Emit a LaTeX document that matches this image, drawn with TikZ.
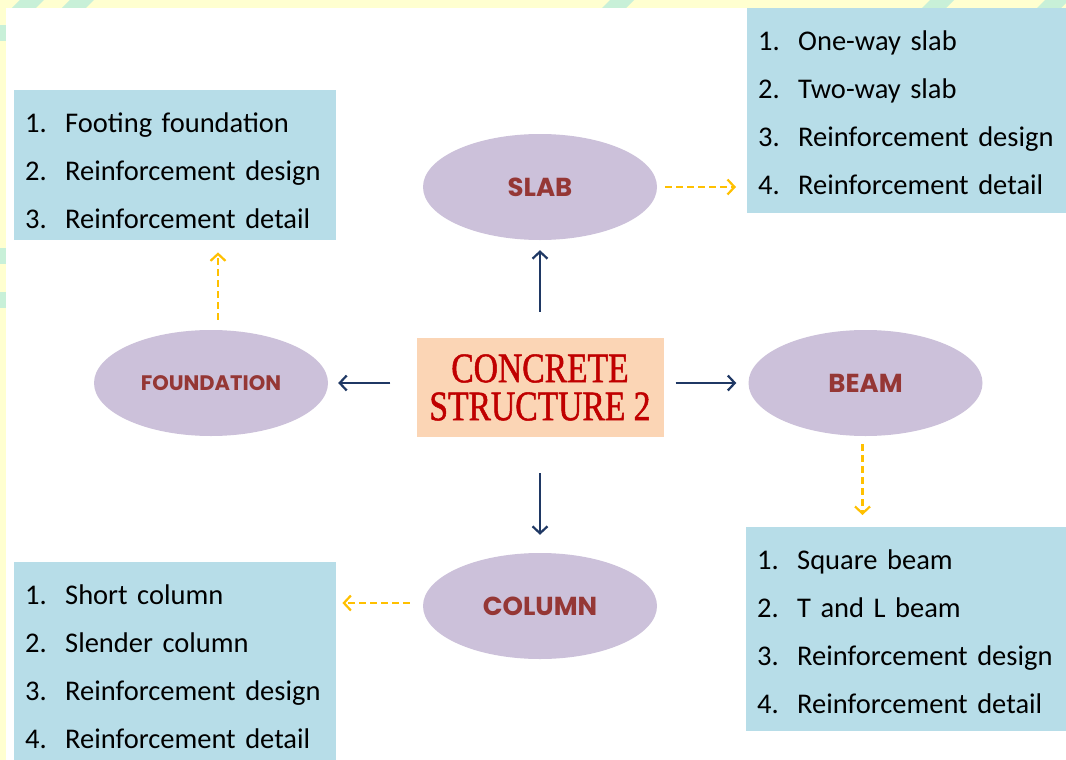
\documentclass[tikz,border=0pt]{standalone}
\usepackage{fontspec}
\setmainfont{Carlito}
\newfontfamily\titlefont[FakeStretch=0.8, FakeBold=1.2]{Liberation Serif}
\newfontfamily\partfont{Poppins}
\usetikzlibrary{arrows.meta, shapes.geometric}

\definecolor{listblue}{HTML}{B7DDE8}
\definecolor{partlilac}{HTML}{CCC1DA}
\definecolor{partred}{HTML}{953735}
\definecolor{corepeach}{HTML}{FBD5B5}
\definecolor{corered}{HTML}{C00000}
\definecolor{navy}{HTML}{1F3864}
\definecolor{gold}{HTML}{FFC000}
\definecolor{bandyellow}{HTML}{FFFFD0}
\definecolor{bandmint}{HTML}{C8F0D8}

% one numbered line of a list box
\newcommand{\itm}[2]{\makebox[40pt][l]{#1.}#2}

\begin{document}
\begin{tikzpicture}[x=1pt, y=-1pt,
listbox/.style = {% blue list box
rectangle, fill=listblue, anchor=north west, inner xsep=11pt, inner ysep=0pt,
text width=300pt, align=left, text height=42pt,
font=\fontsize{28.5}{48}\selectfont},
part/.style = {% lilac ellipse
ellipse, fill=partlilac, minimum width=234pt, minimum height=106pt, inner sep=0pt,
text=partred, font=\partfont\bfseries\fontsize{26}{30}\selectfont},
core/.style = {rectangle, fill=corepeach, minimum width=247pt, minimum height=99pt,
align=center, text=corered, font=\titlefont\fontsize{42}{38}\selectfont},
main/.style = {-{Straight Barb[length=7pt,width=15pt]}, draw=navy, line width=2.2pt},
sub/.style = {-{Straight Barb[length=7pt,width=15pt]}, draw=gold, line width=2.2pt,
dash pattern=on 7pt off 4pt}]
\useasboundingbox (0,0) rectangle (1066,760);
% slide frame
\fill[bandyellow] (0,0) rectangle (1066,760);
\begin{scope}
\clip (0,0) rectangle (1066,8) (0,0) rectangle (6,760);
\foreach \x in {20, 70, 610, 930, 1045}
  \fill[bandmint] (\x,0) -- (\x+24,0) -- (\x+16,8) -- (\x-8,8) -- cycle;
\foreach \y in {25, 248, 292}
  \fill[bandmint] (0,\y) rectangle (6,\y+16);
\end{scope}
\fill[white] (6,8) rectangle (1066,760);

% center and the four parts
\node[core] (core) at (540,387.5) {CONCRETE\\STRUCTURE 2};
\node[part] (slab) at (540,187) {SLAB};
\node[part, font=\partfont\bfseries\fontsize{21}{25}\selectfont] (found) at (211,383) {FOUNDATION};
\node[part] (beam) at (865.5,383) {BEAM};
\node[part] (column) at (540,606) {COLUMN};

% list boxes
\node[listbox, text depth=108pt] (foundList) at (14,90)
  {\itm{1}{Footing foundation}\\ \itm{2}{Reinforcement design}\\ \itm{3}{Reinforcement detail}};
\node[listbox, text depth=163pt] (slabList) at (747,8)
  {\itm{1}{One-way slab}\\ \itm{2}{Two-way slab}\\ \itm{3}{Reinforcement design}\\ \itm{4}{Reinforcement detail}};
\node[listbox, text depth=162pt] (beamList) at (746,527)
  {\itm{1}{Square beam}\\ \itm{2}{T and L beam}\\ \itm{3}{Reinforcement design}\\ \itm{4}{Reinforcement detail}};
\node[listbox, text depth=156pt] (colList) at (14,562)
  {\itm{1}{Short column}\\ \itm{2}{Slender column}\\ \itm{3}{Reinforcement design}\\ \itm{4}{Reinforcement detail}};

% arrows from the center
\draw[main, shorten <=26pt, shorten >=10pt] (core.north) -- (slab.south);
\draw[main, shorten <=12pt, shorten >=12pt] (core.east |- beam.west) -- (beam.west);
\draw[main, shorten <=36pt, shorten >=18pt] (core.south) -- (column.north);
\draw[main, shorten <=26pt, shorten >=10pt] (core.west |- found.east) -- (found.east);
% dashed arrows to the lists
\draw[sub, shorten <=8pt, shorten >=11pt] (slab.east) -- (slab.east -| slabList.west);
\draw[sub, shorten <=10pt, shorten >=12pt] ([xshift=7pt]found.north) -- ([xshift=7pt]found.north |- foundList.south);
\draw[sub, shorten <=8pt, shorten >=12pt] ([xshift=-3pt]beam.south) -- ([xshift=-3pt]beam.south |- beamList.north);
\draw[sub, shorten <=13pt, shorten >=6pt] ([yshift=3pt]column.west) -- ([yshift=3pt]column.west -| colList.east);
\end{tikzpicture}
\end{document}
